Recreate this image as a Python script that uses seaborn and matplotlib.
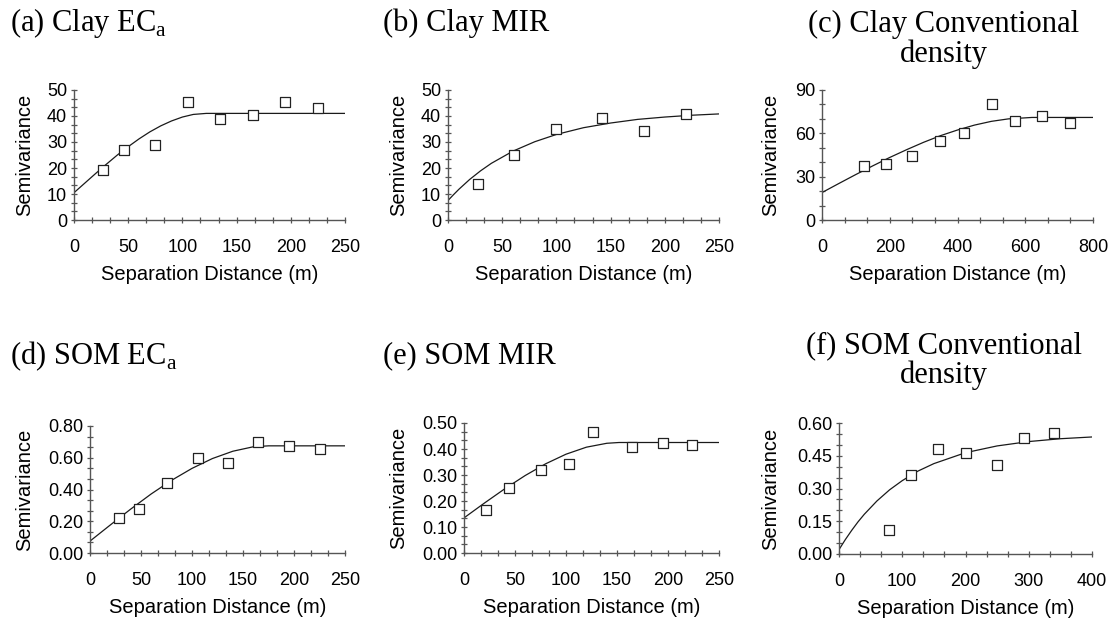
import seaborn as sns
import matplotlib.pyplot as plt
from matplotlib.ticker import MultipleLocator, FormatStrFormatter

# ---- data ----
clay_eca_lag = [27, 46, 75, 105, 135, 165, 195, 225]
clay_eca_gamma = [19.4, 27.0, 28.7, 45.2, 38.9, 40.4, 45.2, 42.9]
clay_eca_h = [0, 10, 20, 30, 40, 50, 60, 70, 80, 90, 100, 110, 122, 250]
clay_eca_fit = [10.5, 14.2, 17.9, 21.5, 25.0, 28.2, 31.2, 33.9, 36.2, 38.1, 39.6, 40.6, 41.0, 41.0]

clay_mir_lag = [28, 61, 100, 142, 181, 220]
clay_mir_gamma = [14.0, 25.0, 34.9, 39.3, 34.4, 40.9]
clay_mir_h = [0, 5, 10, 20, 30, 40, 60, 80, 100, 125, 150, 175, 200, 225, 250]
clay_mir_fit = [7.5, 9.7, 11.8, 15.6, 18.9, 21.8, 26.5, 30.1, 32.9, 35.5, 37.3, 38.7, 39.6, 40.3, 40.8]

clay_conv_lag = [123, 188, 266, 349, 418, 501, 571, 650, 733]
clay_conv_gamma = [37.6, 39.0, 44.3, 54.4, 59.9, 80.3, 68.6, 72.1, 67.3]
clay_conv_h = [0, 50, 100, 150, 200, 250, 300, 350, 400, 450, 500, 550, 620, 800]
clay_conv_fit = [19.0, 25.3, 31.5, 37.5, 43.3, 48.7, 53.8, 58.4, 62.3, 65.7, 68.3, 70.0, 71.0, 71.0]

som_eca_lag = [28, 48, 75, 106, 135, 165, 195, 225]
som_eca_gamma = [0.221, 0.276, 0.444, 0.600, 0.566, 0.701, 0.674, 0.655]
som_eca_h = [0, 20, 40, 60, 80, 100, 120, 140, 160, 175, 250]
som_eca_fit = [0.075, 0.177, 0.277, 0.372, 0.458, 0.533, 0.595, 0.641, 0.669, 0.675, 0.675]

som_mir_lag = [22, 44, 75, 103, 126, 165, 195, 224]
som_mir_gamma = [0.165, 0.251, 0.319, 0.341, 0.464, 0.407, 0.423, 0.415]
som_mir_h = [0, 20, 40, 60, 80, 100, 120, 140, 152, 250]
som_mir_fit = [0.135, 0.192, 0.247, 0.298, 0.343, 0.380, 0.407, 0.422, 0.425, 0.425]

som_conv_lag = [79, 114, 157, 200, 250, 292, 340]
som_conv_gamma = [0.111, 0.362, 0.481, 0.463, 0.406, 0.531, 0.554]
som_conv_h = [0, 10, 20, 30, 40, 60, 80, 100, 125, 150, 200, 250, 300, 350, 400]
som_conv_fit = [0.020, 0.066, 0.108, 0.147, 0.182, 0.243, 0.294, 0.336, 0.380, 0.414,
                0.464, 0.495, 0.515, 0.528, 0.536]

sns.set_theme(style="ticks", rc={"axes.linewidth": 1.0, "axes.edgecolor": "#555555"})
plt.rcParams["font.family"] = ["Liberation Sans", "DejaVu Sans"]
plt.rcParams["mathtext.fontset"] = "custom"
plt.rcParams["mathtext.rm"] = "Liberation Serif"

W, H = 1115, 629
fig = plt.figure(figsize=(W / 100, H / 100), dpi=100)

# panels: title lines, axes box in pixels (l, t, r, b), x range/step, y range/step, y format
panels = [
    (["(a) Clay EC$_{\\rm a}$"], (74, 90, 345, 220), 250, 50, 50, 10, "%d",
     clay_eca_lag, clay_eca_gamma, clay_eca_h, clay_eca_fit),
    (["(b) Clay MIR"], (448, 90, 719, 220), 250, 50, 50, 10, "%d",
     clay_mir_lag, clay_mir_gamma, clay_mir_h, clay_mir_fit),
    (["(c) Clay Conventional", "density"], (822, 90, 1093, 220), 800, 200, 90, 30, "%d",
     clay_conv_lag, clay_conv_gamma, clay_conv_h, clay_conv_fit),
    (["(d) SOM EC$_{\\rm a}$"], (90, 426, 345, 553), 250, 50, 0.8, 0.2, "%.2f",
     som_eca_lag, som_eca_gamma, som_eca_h, som_eca_fit),
    (["(e) SOM MIR"], (464, 423, 719, 553), 250, 50, 0.5, 0.1, "%.2f",
     som_mir_lag, som_mir_gamma, som_mir_h, som_mir_fit),
    (["(f) SOM Conventional", "density"], (839, 423, 1092, 554), 400, 100, 0.6, 0.15, "%.2f",
     som_conv_lag, som_conv_gamma, som_conv_h, som_conv_fit),
]
title_pos = [(10, 31), (383, 31), (944, 32), (10, 364), (383, 363), (944, 353)]
ylab_px = [24, 398, 770, 24, 398, 770]

for i, (title, box, xmax, xstep, ymax, ystep, yfmt, lag, gam, h, fit) in enumerate(panels):
    l, t, r, b = box
    ax = fig.add_axes([l / W, 1 - b / H, (r - l) / W, (b - t) / H])

    sns.lineplot(x=h, y=fit, ax=ax, color="#1a1a1a", linewidth=0.9, estimator=None)
    sns.scatterplot(x=lag, y=gam, ax=ax, marker="s", s=42, color="white",
                    edgecolor="#222222", linewidth=0.9, zorder=3, clip_on=False)

    ax.set_xlim(0, xmax)
    ax.set_ylim(0, ymax)
    ax.xaxis.set_major_locator(MultipleLocator(xstep))
    ax.xaxis.set_minor_locator(MultipleLocator(xstep / 3))
    ax.yaxis.set_major_locator(MultipleLocator(ystep))
    ax.yaxis.set_minor_locator(MultipleLocator(ystep / 3))
    ax.yaxis.set_major_formatter(FormatStrFormatter(yfmt))
    ax.tick_params(which="both", direction="inout", length=4, width=0.9,
                   color="#555555", labelsize=13, labelcolor="black")
    ax.tick_params(axis="x", which="both", pad=11.5)
    ax.tick_params(axis="y", which="both", pad=3)
    sns.despine(ax=ax)
    ax.grid(False)

    ax.set_xlabel("Separation Distance (m)", fontsize=14.5, color="black")
    ax.set_ylabel("Semivariance", fontsize=14.5, color="black")
    ax.xaxis.set_label_coords(0.5, -45 / (b - t))
    ax.yaxis.set_label_coords((ylab_px[i] + 10 - l) / (r - l), 0.5)

    tx, ty = title_pos[i]
    ha = "center" if len(title) > 1 else "left"
    for k, line in enumerate(title):
        fig.text(tx / W, 1 - (ty + 30 * k) / H, line, ha=ha, va="baseline",
                 fontsize=22, family="Liberation Serif", color="black")

fig.savefig("out.png", dpi=100)
